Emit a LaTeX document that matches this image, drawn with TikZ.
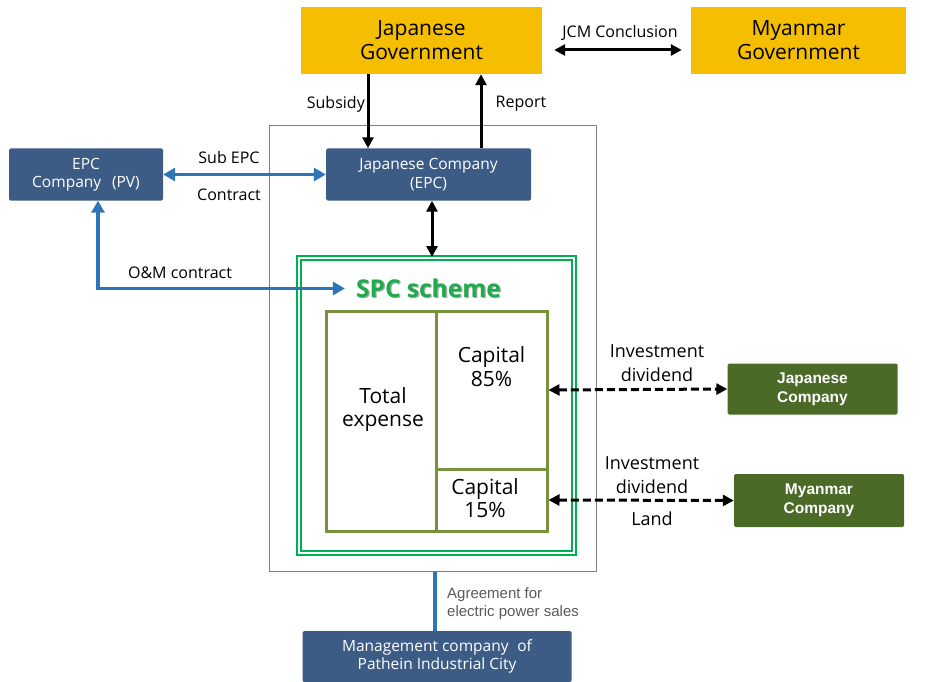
\documentclass[tikz,border=0pt]{standalone}
\usepackage{fontspec}
\setmainfont{Open Sans}
\newfontfamily\arialfont{Liberation Sans}
\usetikzlibrary{arrows.meta,calc}

\definecolor{govyellow}{HTML}{F5BE00}
\definecolor{corpblue}{HTML}{3D5C85}
\definecolor{linkblue}{HTML}{2E75B6}
\definecolor{spcgreen}{HTML}{00B050}
\definecolor{spctext}{HTML}{1FAA4C}
\definecolor{olivebox}{HTML}{76923C}
\definecolor{darkolive}{HTML}{4B6A27}
\definecolor{framegray}{HTML}{7F7F7F}
\definecolor{notegray}{HTML}{595959}

\newcommand{\fsz}[2]{\fontsize{#1}{#2}\selectfont}

\begin{document}
\begin{tikzpicture}[x=1pt,y=-1pt,
  box/.style={rectangle,inner sep=0pt,align=center},
  govbox/.style={box,fill=govyellow,font=\fsz{21}{24}},
  corpbox/.style={box,fill=corpblue,text=white,rounded corners=1.5pt,font=\fsz{15.5}{18.5}},
  invbox/.style={box,fill=darkolive,text=white,rounded corners=1.5pt,font=\fsz{15.5}{19}\bfseries\arialfont},
  partbox/.style={box,draw=olivebox,line width=3pt},
  parttext/.style={align=center,inner sep=0pt,font=\fsz{21}{23.5}},
  lbl/.style={align=center,inner sep=0pt,font=\fsz{16}{18}},
  invlbl/.style={align=center,inner sep=0pt,font=\fsz{18}{24}},
  blackarrow/.style={line width=3pt,-{Triangle[length=11pt,width=11pt]}},
  blackboth/.style={line width=3pt,{Triangle[length=11pt,width=11pt]}-{Triangle[length=11pt,width=11pt]}},
  bluelink/.style={draw=linkblue,line width=3.5pt},
  blueboth/.style={bluelink,{Triangle[length=12pt,width=13pt]}-{Triangle[length=12pt,width=13pt]}},
  dashboth/.style={line width=3pt,dash pattern=on 8pt off 4pt,
    {Triangle[length=11pt,width=11pt]}-{Triangle[length=11pt,width=11pt]}}
]
\useasboundingbox (0,0) rectangle (926,682);

% governments
\node[govbox,minimum width=241pt,minimum height=67pt] (jg) at (421.5,40.5) {Japanese\\Government};
\node[govbox,minimum width=215pt,minimum height=67pt] (mg) at (798.5,40.5) {Myanmar\\Government};

% project frame
\node[box,draw=framegray,line width=1pt,minimum width=327pt,minimum height=445pt] (frame) at (432.5,348.5) {};

% contractor boxes
\node[corpbox,minimum width=154pt,minimum height=52pt] (epc) at (86,174.5) {EPC\\Company\hspace{0.7em}(PV)};
\node[corpbox,minimum width=205pt,minimum height=52pt] (jce) at (428.5,174.5) {Japanese Company\\(EPC)};
\node[corpbox,minimum width=269pt,minimum height=51pt] (mgmt) at (437,656.5) {Management company\hspace{0.3em} of\\Pathein Industrial City};

% SPC scheme with its double border
\node[box,draw=spcgreen,line width=2pt,double=white,double distance=2.2pt,
      minimum width=275pt,minimum height=295pt] (spc) at (436.5,405.5) {};
\node[inner sep=0pt,text=black!35,font=\fsz{24.5}{26}\bfseries] at (429.8,289.8) {SPC scheme};
\node[inner sep=0pt,text=spctext,font=\fsz{24.5}{26}\bfseries] (spct) at (428.5,288.5) {SPC scheme};

% capital structure
\node[partbox,minimum width=110pt,minimum height=220pt] (total) at (381,421) {};
\node[partbox,minimum width=111pt,minimum height=158pt] (cap85) at (491.5,390) {};
\node[partbox,minimum width=111pt,minimum height=62pt] (cap15) at (491.5,500) {};
\node[parttext] (totalt) at (383,409.5) {Total\\expense};
\node[parttext] (cap85t) at (491.5,366.5) {Capital\\85\%};
\node[parttext] (cap15t) at (485,498) {Capital\\15\%};

% investors
\node[invbox,minimum width=170pt,minimum height=51pt] (jpco) at (812.5,389) {Japanese\\Company};
\node[invbox,minimum width=170pt,minimum height=53pt] (mmco) at (819,500.5) {Myanmar\\Company};

% connectors
\coordinate (jcmy) at (0,50);
\coordinate (subx) at (368,0);
\coordinate (repx) at (481,0);
\coordinate (linkx) at (432,0);
\coordinate (omx) at (98,0);
\coordinate (pwrx) at (435,0);

\draw[blackboth,shorten <=12pt,shorten >=9pt] (jg.east |- jcmy) -- (mg.west |- jcmy);
\draw[blackarrow] (jg.south -| subx) -- (jce.north -| subx);
\draw[blackarrow] (jce.north -| repx) -- (jg.south -| repx);
\draw[blackboth] (jce.south -| linkx) -- (spc.north -| linkx);
\draw[blueboth] (epc.east) -- (jce.west);
\draw[blueboth] (epc.south -| omx) |- ([xshift=-11pt]spct.west);
\draw[dashboth] (cap85.east) -- (jpco.west);
\draw[dashboth] (cap15.east) -- (mmco.west);
\draw[bluelink] (frame.south -| pwrx) -- (mgmt.north -| pwrx);

% connector labels
\node[lbl] (jcml) at (620,33) {JCM Conclusion};
\node[lbl,anchor=east] (subl) at (365,104) {Subsidy};
\node[lbl] (repl) at (521,104) {Report};
\node[lbl] (subepcl) at (229,158) {Sub EPC};
\node[lbl] (contrl) at (229,195) {Contract};
\node[lbl] (oml) at (180,273) {O\&M contract};
\node[invlbl] (inv1) at (657,363) {Investment\\dividend};
\node[invlbl] (inv2) at (652,475) {Investment\\dividend};
\node[invlbl] (landl) at (652,519) {Land};
\node[align=left,anchor=west,inner sep=0pt,text=notegray,font=\fsz{15}{18}\arialfont] (pwrl) at (447,603.5)
  {Agreement for\\electric power sales};
\end{tikzpicture}
\end{document}
